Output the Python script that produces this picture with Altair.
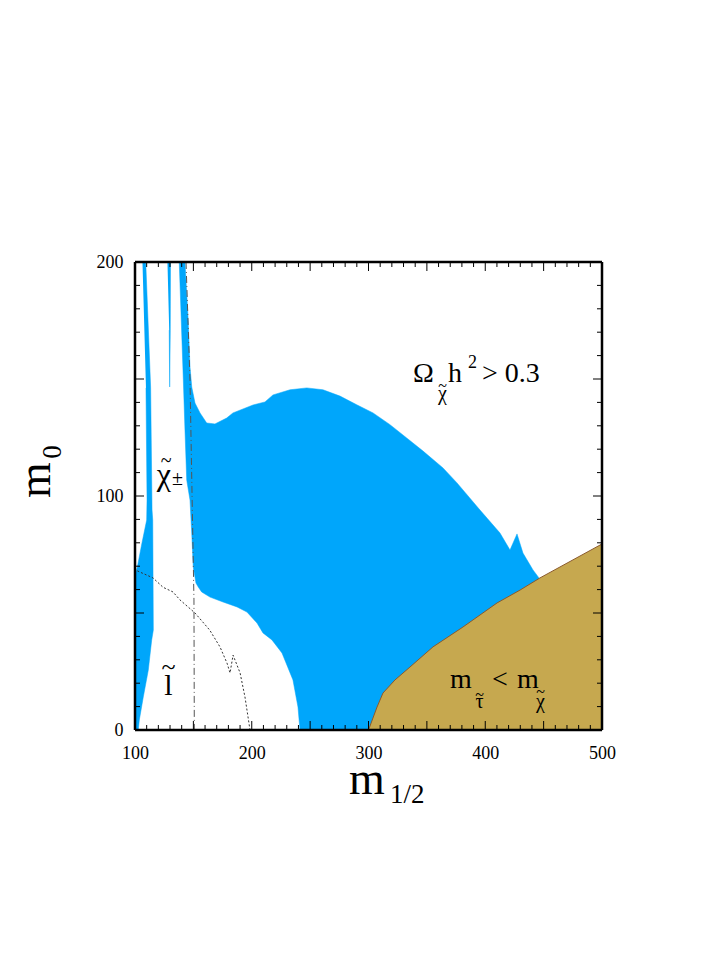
import altair as alt
import pandas as pd

BLUE = "#00A6FB"
BROWN = "#C6A84F"
FONT = "Liberation Serif"

# ---- data (m_1/2, m_0) ----
main_x = [137.9, 141.4, 142.8, 144.3, 147.1, 148.6, 149.9, 152.2, 154.2, 157.1, 164.2, 175.4, 187.4, 195.9,
          204.5, 209.6, 217.3, 225.9, 235.3, 239.6, 241.3, 464.0, 446.0, 440.9, 432.3, 427.2, 421.2, 412.6,
          395.5, 375.8, 363.8, 346.7, 332.7, 318.4, 303.9, 289.9, 275.6, 261.0, 247.1, 232.8, 218.2, 211.3,
          201.1, 183.9, 178.5, 168.5, 161.4, 155.7, 151.4, 148.6, 147.1, 145.4, 142.8]
main_y = [200, 149.6, 128.2, 106.8, 98.3, 84.2, 69.7, 62.8, 61.1, 59.0, 56.8, 54.7, 52.6, 50.4,
          45.7, 41.5, 38.5, 32.9, 21.4, 9.8, 0, 0, 65.0, 68.4, 75.6, 83.8, 76.9, 84.2,
          94.0, 105.6, 112.0, 119.2, 124.8, 130.5, 135.5, 139.0, 142.7, 145.4, 146.2, 145.4, 143.2, 140.2,
          138.9, 135.5, 133.3, 130.8, 131.2, 135.5, 139.7, 146.6, 155.1, 176.5, 200]

spike1_x = [106.4, 109.2, 113.4, 114.6, 115.2, 115.7, 114.3, 111.4, 107.1, 103.7, 102.8, 100.0, 100.0,
            102.0, 106.0, 110.0, 110.3, 109.4]
spike1_y = [200, 200, 146.2, 94.0, 89.7, 42.7, 38.5, 25.6, 14.1, 4.3, 0, 0, 66.2,
            69.7, 80.0, 89.7, 98.3, 146.2]

spike2_x = [127.8, 130.4, 130.2, 129.7, 129.3]
spike2_y = [200, 200, 170.9, 146.6, 170.9]

stau_x = [300.0, 307.3, 312.4, 322.7, 335.5, 355.2, 380.9, 410.1, 429.8, 446.9, 500.0, 500.0]
stau_y = [0, 9.8, 15.8, 21.4, 26.9, 35.5, 44.0, 54.3, 59.8, 65.0, 79.5, 0]

slep_x = [102.0, 115.4, 124.0, 132.5, 138.5, 151.4, 164.0, 172.8, 178.8, 181.4, 184.0, 190.0, 194.2, 196.8, 198.5]
slep_y = [68.0, 65.0, 61.0, 59.0, 55.6, 50.0, 42.7, 35.5, 28.6, 24.4, 32.0, 24.4, 14.1, 5.6, 0]

char_x = [143.7, 147.1, 149.1, 150.5, 150.8]
char_y = [200, 149.6, 94.0, 55.6, 0]

x_labels = [100, 200, 300, 400, 500]
y_labels = [0, 100, 200]
x_major = list(range(100, 501, 50))
x_minor = [v for v in range(100, 501, 10) if v % 50]
y_major = list(range(0, 201, 50))
y_minor = [v for v in range(0, 201, 10) if v % 50]

# annotation texts
ann_text = ["Ω", "χ", "~", "h", "2", "> 0.3",
            "m", "τ", "~", "<", "m", "χ", "~",
            "χ", "~", "±", "l", "~"]
ann_x = [338.1, 363.4, 363.4, 368.1, 385.2, 397.2,
         369.8, 395.1, 395.1, 405.8, 427.2, 447.3, 447.3,
         124.8, 126.6, 131.7, 128.7, 128.7]
ann_y = [148.7, 141.0, 144.7, 148.7, 154.7, 148.7,
         17.9, 9.4, 13.0, 17.9, 17.9, 9.4, 13.9,
         104.7, 112.6, 104.7, 15.0, 23.7]
ann_size = [28, 20, 16, 28, 18, 28,
            28, 20, 16, 28, 28, 20, 16,
            32, 20, 20, 30, 26]
ann_align = ["left", "center", "center", "left", "left", "left",
             "left", "center", "center", "left", "left", "center", "center",
             "center", "center", "left", "center", "center"]

W, H = 467, 468

xs = alt.Scale(domain=[100, 500], nice=False, zero=False, padding=0)
ys = alt.Scale(domain=[0, 200], nice=False, zero=False, padding=0)


def poly_df(name, xv, yv):
    return pd.DataFrame({"poly": name, "i": range(len(xv)), "x": xv, "y": yv})


blue_df = pd.concat([poly_df("main", main_x, main_y),
                     poly_df("s1", spike1_x, spike1_y),
                     poly_df("s2", spike2_x, spike2_y)])

blue = alt.Chart(blue_df).mark_line(fill=BLUE, stroke=BLUE, strokeWidth=0.5).encode(
    x=alt.X("x:Q", scale=xs, axis=alt.Axis(values=x_labels, ticks=False, domain=False, grid=False,
                                          labelFont=FONT, labelFontSize=18, labelColor="black",
                                          labelPadding=14, title=None, tickSize=0,
                                          labelFlush=False, labelOverlap=False)),
    y=alt.Y("y:Q", scale=ys, axis=alt.Axis(values=y_labels, ticks=False, domain=False, grid=False,
                                          labelFont=FONT, labelFontSize=18, labelColor="black",
                                          labelPadding=12, title=None, tickSize=0,
                                          labelFlush=False, labelOverlap=False)),
    detail="poly:N",
    order="i:Q",
)

stau = alt.Chart(poly_df("stau", stau_x, stau_y)).mark_line(
    fill=BROWN, stroke="#8B5A2B", strokeWidth=1).encode(
    x=alt.X("x:Q", scale=xs), y=alt.Y("y:Q", scale=ys), order="i:Q")

slep = alt.Chart(poly_df("slep", slep_x, slep_y)).mark_line(
    stroke="#333333", strokeWidth=1, strokeDash=[2, 2]).encode(
    x=alt.X("x:Q", scale=xs), y=alt.Y("y:Q", scale=ys), order="i:Q")

char = alt.Chart(poly_df("char", char_x, char_y)).mark_line(
    stroke="#555555", strokeWidth=1, strokeDash=[7, 3, 1, 3]).encode(
    x=alt.X("x:Q", scale=xs), y=alt.Y("y:Q", scale=ys), order="i:Q")


# ticks (inward, all four sides)
def tick_layers(vals, length, axis):
    df = pd.DataFrame({"v": vals})
    base = alt.Chart(df).mark_rule(color="black", strokeWidth=1)
    if axis == "x":
        return [base.encode(x=alt.X("v:Q", scale=xs), y=alt.value(H), y2=alt.value(H - length)),
                base.encode(x=alt.X("v:Q", scale=xs), y=alt.value(0), y2=alt.value(length))]
    return [base.encode(y=alt.Y("v:Q", scale=ys), x=alt.value(0), x2=alt.value(length)),
            base.encode(y=alt.Y("v:Q", scale=ys), x=alt.value(W), x2=alt.value(W - length))]


ticks = (tick_layers(x_major, 9, "x") + tick_layers(x_minor, 5, "x")
         + tick_layers(y_major, 9, "y") + tick_layers(y_minor, 5, "y"))

one = pd.DataFrame({"k": [0]})
frame_base = alt.Chart(one).mark_rule(color="black", strokeWidth=2.5)
frame = [
    frame_base.encode(x=alt.value(0), x2=alt.value(W), y=alt.value(0)),
    frame_base.encode(x=alt.value(0), x2=alt.value(W), y=alt.value(H)),
    frame_base.encode(y=alt.value(0), y2=alt.value(H), x=alt.value(0)),
    frame_base.encode(y=alt.value(0), y2=alt.value(H), x=alt.value(W)),
]

ann_df = pd.DataFrame({"t": ann_text, "x": ann_x, "y": ann_y, "s": ann_size, "a": ann_align})
texts = []
for al in ["left", "center"]:
    texts.append(alt.Chart(ann_df[ann_df.a == al]).mark_text(
        font=FONT, align=al, baseline="alphabetic", color="black").encode(
        x=alt.X("x:Q", scale=xs), y=alt.Y("y:Q", scale=ys), text="t:N",
        size=alt.Size("s:Q", scale=None, legend=None)))

titles = [
    alt.Chart(one).mark_text(font=FONT, fontSize=46, align="center", baseline="alphabetic",
                             color="black", text="m").encode(x=alt.value(232), y=alt.value(532)),
    alt.Chart(one).mark_text(font=FONT, fontSize=27, align="left", baseline="alphabetic",
                             color="black", text="1/2").encode(x=alt.value(255), y=alt.value(541)),
    alt.Chart(one).mark_text(font=FONT, fontSize=46, align="center", baseline="alphabetic", angle=270,
                             color="black", text="m").encode(x=alt.value(-85), y=alt.value(218)),
    alt.Chart(one).mark_text(font=FONT, fontSize=27, align="center", baseline="alphabetic", angle=270,
                             color="black", text="0").encode(x=alt.value(-74), y=alt.value(190)),
]

chart = alt.layer(blue, stau, slep, char, *ticks, *frame, *texts, *titles).properties(
    width=W, height=H,
    autosize=alt.AutoSizeParams(type="none"),
    padding={"left": 127, "top": 254, "right": 100, "bottom": 200},
).configure_view(stroke=None).configure(background="white")

chart.save("out.html", embed_options={"renderer": "svg", "actions": False})
